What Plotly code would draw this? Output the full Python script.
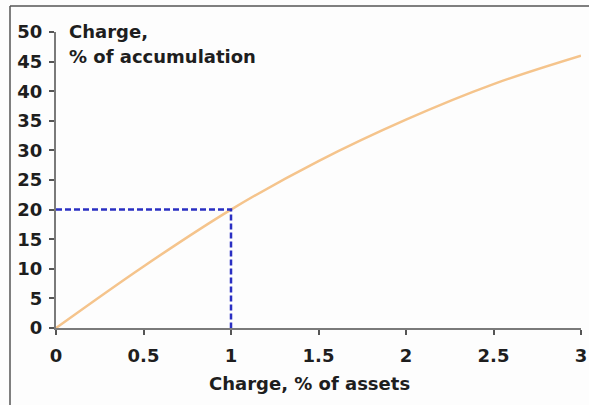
import plotly.graph_objects as go

# Data
charge_assets = [0, 0.5, 1.0, 1.5, 2.0, 2.5, 3.0]
charge_accum = [0, 10.4, 20.0, 28.2, 35.2, 41.2, 46.0]
highlight_x = 1.0
highlight_y = 20.0
x_ticks = [0, 0.5, 1, 1.5, 2, 2.5, 3]
x_ticklabels = ["0", "0.5", "1", "1.5", "2", "2.5", "3"]
y_ticks = [0, 5, 10, 15, 20, 25, 30, 35, 40, 45, 50]

W, H = 589, 405
L, R, T, B = 56, 8, 32, 77
pw, ph = W - L - R, H - T - B

def px_x(p):
    return (p - L) / pw

def px_y(p):
    return (H - B - p) / ph

FONT = "DejaVu Sans"
TXT = "#1e1e1e"
FS = 18

fig = go.Figure()
fig.add_trace(go.Scatter(
    x=charge_assets, y=charge_accum, mode="lines",
    line=dict(color="#F5C48C", width=2.5, shape="spline", smoothing=1.0),
    hoverinfo="skip", showlegend=False,
))
fig.add_trace(go.Scatter(
    x=[0, highlight_x, highlight_x], y=[highlight_y, highlight_y, 0], mode="lines",
    line=dict(color="#2A2FC2", width=2.5, dash="6px,3px"),
    hoverinfo="skip", showlegend=False,
))

fig.update_layout(
    width=W, height=H,
    margin=dict(l=L, r=R, t=T, b=B, pad=0, autoexpand=False),
    paper_bgcolor="#fdfdfd", plot_bgcolor="#fdfdfd",
    font=dict(family=FONT, size=FS, color=TXT),
    xaxis=dict(
        range=[0, 3], tickvals=x_ticks, ticktext=x_ticklabels, automargin=False,
        showgrid=False, zeroline=False, showline=True, linecolor="#7a7a7a", linewidth=2,
        ticks="outside", ticklen=5, tickwidth=2, tickcolor="#555", ticklabelstandoff=5,
        tickfont=dict(family=FONT, size=FS, color=TXT, weight="bold"),
    ),
    yaxis=dict(
        range=[0, 50], tickvals=y_ticks, automargin=False,
        showgrid=False, zeroline=False, showline=True, linecolor="#7a7a7a", linewidth=2,
        ticks="outside", ticklen=5, tickwidth=1.5, tickcolor="#555", ticklabelstandoff=3,
        tickfont=dict(family=FONT, size=FS, color=TXT, weight="bold"),
    ),
    annotations=[
        dict(text="<b>Charge,</b>", xref="paper", yref="paper", x=px_x(67), y=px_y(31),
             xanchor="left", yanchor="middle", showarrow=False,
             font=dict(family=FONT, size=FS, color=TXT)),
        dict(text="<b>% of accumulation</b>", xref="paper", yref="paper", x=px_x(67), y=px_y(57),
             xanchor="left", yanchor="middle", showarrow=False,
             font=dict(family=FONT, size=FS, color=TXT)),
        dict(text="<b>Charge, % of assets</b>", xref="paper", yref="paper", x=px_x(309.5), y=px_y(383),
             xanchor="center", yanchor="middle", showarrow=False,
             font=dict(family=FONT, size=FS, color=TXT)),
    ],
    shapes=[
        dict(type="line", xref="paper", yref="paper", x0=px_x(10), x1=px_x(600),
             y0=px_y(6), y1=px_y(6), line=dict(color="#555", width=1.5)),
        dict(type="line", xref="paper", yref="paper", x0=px_x(10), x1=px_x(10),
             y0=px_y(6), y1=px_y(410), line=dict(color="#555", width=1.5)),
    ],
)

fig.write_html(
    "out.html",
    config={"displayModeBar": False},
    post_script="document.body.style.margin='0';document.body.style.overflow='hidden';",
)
